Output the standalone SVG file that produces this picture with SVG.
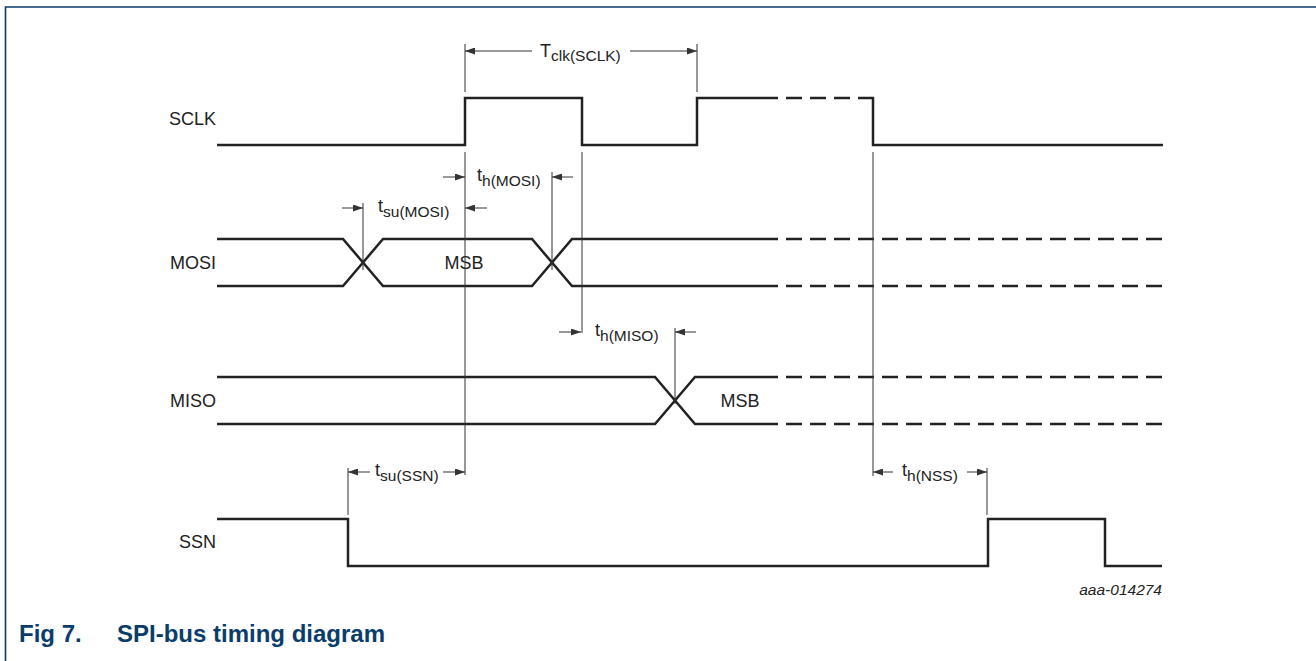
<svg xmlns="http://www.w3.org/2000/svg" width="1316" height="661" viewBox="0 0 1316 661">
<style>
.wave{fill:none;stroke:#222;stroke-width:2.5;stroke-linejoin:miter}
.dash{fill:none;stroke:#222;stroke-width:2.5;stroke-dasharray:16 8}
.thin{fill:none;stroke:#333;stroke-width:1}
.arr{fill:none;stroke:#333;stroke-width:1;marker-end:url(#ah)}
.lbl{font-family:"Liberation Sans",Arial,sans-serif;font-size:18px;fill:#222}
.sub{font-size:15.5px}
.frame{fill:none;stroke:#0b3d6b;stroke-width:1.6}
.cap{font-family:"Liberation Sans",Arial,sans-serif;font-size:24px;font-weight:bold;fill:#0b3d6b}
</style>
<defs>
<marker id="ah" viewBox="0 0 10 7" refX="10" refY="3.5" markerWidth="11" markerHeight="7" orient="auto" markerUnits="userSpaceOnUse"><path d="M0,0 L10,3.5 L0,7 z" fill="#333"/></marker>
</defs>
<rect width="1316" height="661" fill="#fff"/>
<path class="frame" d="M5.5,661 V7 H1316"/>

<g id="sclk">
<text class="lbl" x="216" y="125" text-anchor="end">SCLK</text>
<path class="wave" d="M217,145 H465 V98 H582 V145 H697 V98 H778"/>
<path class="dash" d="M786,98 H850"/>
<path class="wave" d="M858,98 H873 V145 H1163"/>
</g>

<g id="mosi">
<text class="lbl" x="216" y="269" text-anchor="end">MOSI</text>
<path class="wave" d="M217,239 H343 L383,286 H532 L572,239 H778"/>
<path class="wave" d="M217,286 H343 L383,239 H532 L572,286 H778"/>
<path class="dash" d="M786,239 H1163 M786,286 H1163"/>
<text class="lbl" x="464" y="269" text-anchor="middle">MSB</text>
</g>

<g id="miso">
<text class="lbl" x="216" y="407" text-anchor="end">MISO</text>
<path class="wave" d="M217,377 H655 L695,424 H778"/>
<path class="wave" d="M217,424 H655 L695,377 H778"/>
<path class="dash" d="M786,377 H1163 M786,424 H1163"/>
<text class="lbl" x="740" y="407" text-anchor="middle">MSB</text>
</g>

<g id="ssn">
<text class="lbl" x="216" y="548" text-anchor="end">SSN</text>
<path class="wave" d="M217,519 H348 V566 H988 V519 H1105 V566 H1162"/>
</g>

<g id="connectors">
<path class="thin" d="M465,44 V92 M697,44 V92"/>
<path class="thin" d="M465,152 V475 M582,152 V333 M363,203 V270 M552,172 V270 M675,328 V404 M873,152 V476 M348,468 V515 M987,468 V515"/>
<line class="arr" x1="532" y1="51" x2="465" y2="51"/>
<line class="arr" x1="630" y1="51" x2="697" y2="51"/>
<line class="arr" x1="342" y1="208" x2="363" y2="208"/>
<line class="arr" x1="487" y1="208" x2="465" y2="208"/>
<line class="arr" x1="443" y1="177" x2="465" y2="177"/>
<line class="arr" x1="573" y1="177" x2="552" y2="177"/>
<line class="arr" x1="559" y1="332" x2="581" y2="332"/>
<line class="arr" x1="696" y1="332" x2="675" y2="332"/>
<line class="arr" x1="370" y1="472" x2="348" y2="472"/>
<line class="arr" x1="443" y1="472" x2="465" y2="472"/>
<line class="arr" x1="893" y1="472" x2="873" y2="472"/>
<line class="arr" x1="967" y1="472" x2="987" y2="472"/>
</g>

<g id="labels">
<text class="lbl" x="540" y="57">T<tspan class="sub" dy="4">clk(SCLK)</tspan></text>
<text class="lbl" x="378" y="212">t<tspan class="sub" dy="5">su(MOSI)</tspan></text>
<text class="lbl" x="477" y="181">t<tspan class="sub" dy="5">h(MOSI)</tspan></text>
<text class="lbl" x="595" y="336">t<tspan class="sub" dy="5">h(MISO)</tspan></text>
<text class="lbl" x="375" y="476">t<tspan class="sub" dy="5">su(SSN)</tspan></text>
<text class="lbl" x="902" y="476">t<tspan class="sub" dy="5">h(NSS)</tspan></text>
<text class="lbl" x="1162" y="595" text-anchor="end" style="font-size:15.5px;font-style:italic">aaa-014274</text>
</g>

<text class="cap" x="19" y="642">Fig 7.</text>
<text class="cap" x="117" y="642">SPI-bus timing diagram</text>
</svg>
